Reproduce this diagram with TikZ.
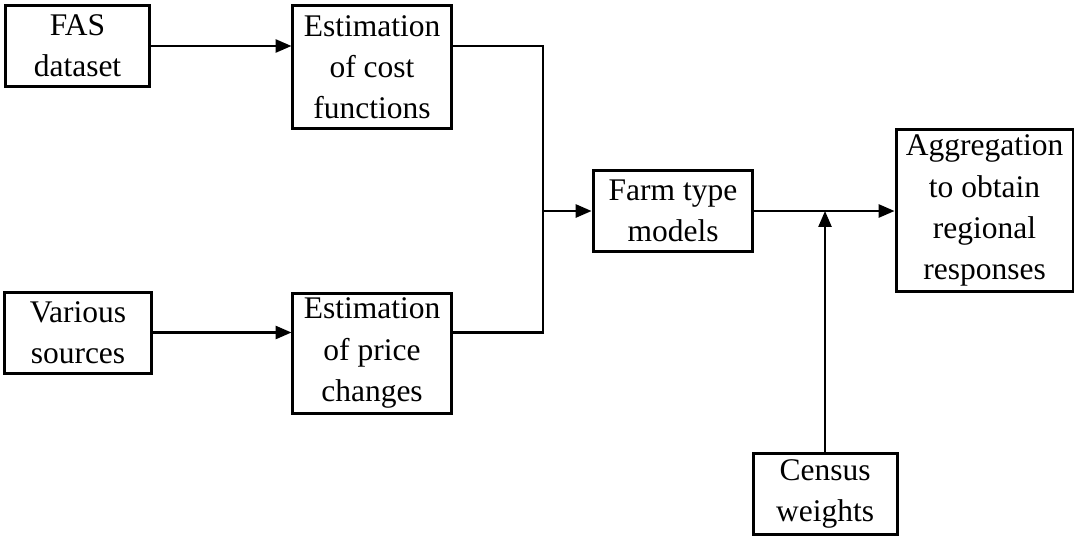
\documentclass[tikz,border=0pt]{standalone}
\usepackage{fontspec}
\setmainfont{Liberation Serif}
\usetikzlibrary{arrows.meta,positioning,calc}

\tikzset{
  block/.style={draw, line width=1pt, align=center, inner sep=0pt,
    font=\fontsize{10.5}{13.7}\selectfont},
  link/.style={line width=0.7pt},
  flow/.style={link, -{Triangle[length=5.3pt,width=4.4pt]}}
}

\begin{document}
\begin{tikzpicture}[x=0.3333pt,y=-0.3333pt]
    \useasboundingbox (0,0) rectangle (1074,536);
    % inputs
    \node[block, minimum width=48.3pt, minimum height=27.3pt] (fas) at (77.5,46) {FAS\\dataset};
    \node[block, minimum width=48.7pt, minimum height=27pt] (src) at (78,332.5) {Various\\sources};
    % estimations
    \node[block, minimum width=52.7pt, minimum height=41.3pt] (cost) at (372,67) {Estimation\\of cost\\functions};
    \node[block, minimum width=52.7pt, minimum height=40pt] (price) at (372,353) {Estimation\\of price\\changes};
    % models and output
    \node[block, minimum width=53.3pt, minimum height=26.7pt] (farm) at (673,211) {Farm type\\models};
    \node[block, minimum width=59pt, minimum height=54.3pt] (agg) at (984.5,210.5) {Aggregation\\to obtain\\regional\\responses};
    \node[block, minimum width=48pt, minimum height=27.3pt] (census) at (825,494) {Census\\weights};
    \coordinate (jn) at (543,211);
    \draw[flow] (fas.east) -- (fas.east -| cost.west);
    \draw[flow] (src.east) -- (src.east -| price.west);
    \draw[link] (fas.east -| cost.east) -| (jn);
    \draw[link] (src.east -| price.east) -| (jn);
    \draw[flow] (jn) -- (farm.west);
    \draw[flow] (farm.east) -- (farm.east -| agg.west);
    \draw[flow, line width=0.5pt] (census.north) -- (census.north |- farm.east);
\end{tikzpicture}
\end{document}
